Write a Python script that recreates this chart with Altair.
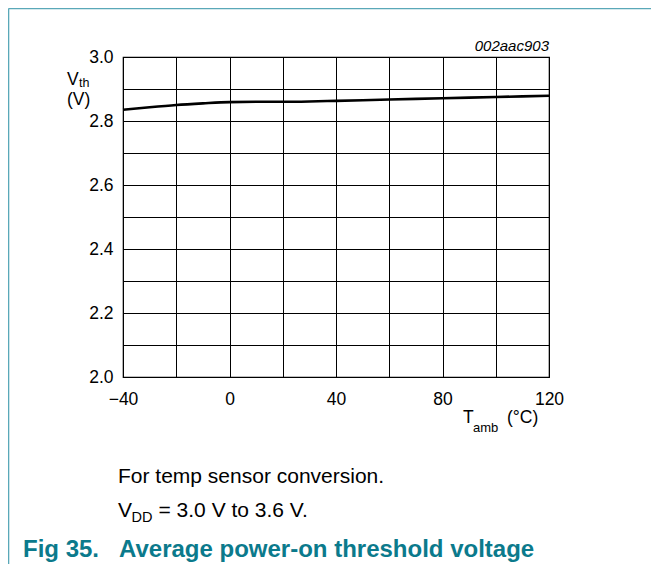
import altair as alt
import pandas as pd

# ---- data ----
temps = [-40, -30, -20, -10, 0, 10, 20, 30, 40, 60, 80, 100, 120]
vth = [2.835, 2.843, 2.850, 2.855, 2.859, 2.860, 2.860, 2.861, 2.863, 2.867, 2.871, 2.875, 2.879]
x_ticks = [-40, -20, 0, 20, 40, 60, 80, 100, 120]
y_ticks = [2.0, 2.1, 2.2, 2.3, 2.4, 2.5, 2.6, 2.7, 2.8, 2.9, 3.0]

FONT = "Liberation Sans"
TEAL = "#0b7a8c"
FRAME = "#5aa8b8"
W, H = 426, 320

df = pd.DataFrame({"T": temps, "V": vth})

line = alt.Chart(df).mark_line(color="black", strokeWidth=2.6, interpolate="monotone").encode(
    x=alt.X("T:Q",
            scale=alt.Scale(domain=[-40, 120], nice=False, zero=False),
            axis=alt.Axis(values=x_ticks, title=None, grid=True, gridColor="black", gridWidth=1,
                          domain=False, ticks=False, labelPadding=13, labelFontSize=17.5,
                          labelFont=FONT, labelColor="black", labelFlush=False, labelOverlap=False,
                          labelExpr="datum.value % 40 == 0 ? replace(format(datum.value, 'd'), '-', '–') : ''")),
    y=alt.Y("V:Q",
            scale=alt.Scale(domain=[2.0, 3.0], nice=False, zero=False),
            axis=alt.Axis(values=y_ticks, title=None, grid=True, gridColor="black", gridWidth=1,
                          domain=False, ticks=False, labelPadding=10, labelFontSize=17.5,
                          labelFont=FONT, labelColor="black", labelFlush=False, labelOverlap=False,
                          labelExpr="round(datum.value * 10) % 2 == 0 ? format(datum.value, '.1f') : ''")),
)


def txt(s, x, y, size, color="black", **kw):
    return alt.Chart(pd.DataFrame({"s": [s]})).mark_text(
        align=kw.pop("align", "left"), baseline="alphabetic", font=FONT, fontSize=size, color=color, **kw
    ).encode(x=alt.value(x), y=alt.value(y), text="s:N")


def rule(x, x2, y, y2):
    return alt.Chart(pd.DataFrame({"a": [0]})).mark_rule(color=FRAME, strokeWidth=1.6).encode(
        x=alt.value(x), x2=alt.value(x2), y=alt.value(y), y2=alt.value(y2))


layers = [
    line,
    rule(-114.5, 528, -48.5, -48.5),
    rule(-114.5, -114.5, -48.5, 507),
    txt("002aac903", 426, -6.5, 15, align="right", fontStyle="italic"),
    txt("V", -56, 27.5, 17.5),
    txt("th", -44, 30, 12.5),
    txt("(V)", -56, 48, 17.5),
    txt("T", 340, 366, 17.5),
    txt("amb", 350, 375, 13),
    txt("(°C)", 384, 366, 17.5),
    txt("For temp sensor conversion.", -5, 425.7, 21),
    txt("V", -5, 459.7, 21),
    txt("DD", 8.5, 465, 14.5),
    txt("= 3.0 V to 3.6 V.", 35.5, 459.7, 21),
    txt("Fig 35.", -100, 499.7, 24, color=TEAL, fontWeight="bold"),
    txt("Average power-on threshold voltage", -4, 499.7, 24, color=TEAL, fontWeight="bold"),
]

chart = alt.layer(*layers).properties(
    width=W, height=H,
    autosize=alt.AutoSizeParams(type="none"),
    padding={"left": 115, "top": 49, "right": 102, "bottom": 187},
).configure_view(stroke="black", strokeWidth=1.2)

chart.save("out.html", embed_options={"renderer": "svg", "actions": False})
